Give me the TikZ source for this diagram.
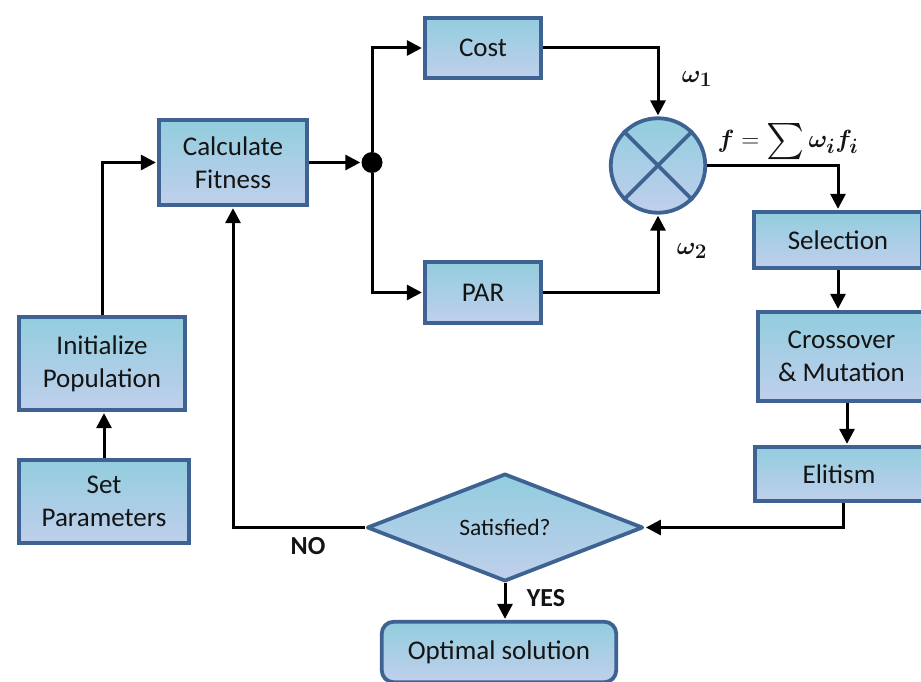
\documentclass[tikz,border=0pt]{standalone}
\usepackage{amsmath,bm,graphicx}
\usepackage{fontspec}
\setmainfont{Carlito}
\usetikzlibrary{arrows.meta,shapes.geometric}
\definecolor{bordc}{RGB}{62,99,146}
\definecolor{topc}{RGB}{146,205,222}
\definecolor{botc}{RGB}{192,207,236}
\definecolor{txtc}{RGB}{20,20,20}
\tikzset{
  box/.style={draw=bordc, line width=3.8pt, top color=topc, bottom color=botc,
    align=center, font=\fontsize{27}{33}\selectfont, text=txtc, inner sep=0pt},
  arr/.style={line width=3pt, -{Triangle[length=15pt,width=15pt]}, shorten >=1pt},
  lbl/.style={font=\bfseries\fontsize{26}{30}\selectfont, text=txtc},
  mlbl/.style={font=\fontsize{24.88}{30}\selectfont, text=txtc, inner sep=0pt},
}
\begin{document}
\begin{tikzpicture}[x=1pt,y=-1pt]
\useasboundingbox (0,0) rectangle (921,682);
\clip (0,0) rectangle (921,682);

% boxes
\node[box, minimum width=148.5pt, minimum height=85.5pt] (calc) at (233,162.5) {Calculate\\Fitness};
\node[box, minimum width=116.5pt, minimum height=60.5pt] (cost) at (483,48) {Cost};
\node[box, minimum width=116.5pt, minimum height=61.5pt] (par) at (483,292.5) {PAR};
\node[box, minimum width=166.5pt, minimum height=93.5pt] (init) at (102,363.5) {Initialize\\Population};
\node[box, minimum width=170.5pt, minimum height=83.5pt] (set) at (104,501.5) {Set\\Parameters};
\node[box, minimum width=168.5pt, minimum height=56.5pt] (sel) at (838,240) {Selection};
\node[box, minimum width=167.5pt, minimum height=89.5pt] (cross) at (841.5,356.5) {Crossover\\\&~Mutation};
\node[box, minimum width=168.5pt, minimum height=54.5pt] (eli) at (839,474) {Elitism};
\node[box, rounded corners=12pt, minimum width=234.5pt, minimum height=60.5pt] (opt) at (499,652) {Optimal solution};
\node[box, diamond, line join=round, font=\fontsize{23.5}{28}\selectfont,
      minimum width=276pt, minimum height=104pt] (dia) at (505,527.5) {Satisfied?};

% summing junction
\node[box, circle, minimum size=94.5pt] (circ) at (658,165.5) {};
\draw[bordc, line width=3.8pt] (circ.45) -- (circ.225);
\draw[bordc, line width=3.8pt] (circ.135) -- (circ.315);

% branch dot
\node[circle, fill=black, minimum size=21pt, inner sep=0pt] (dot) at (372,162.5) {};

% connectors
\draw[arr] (set.north) -- (set.north |- init.south);
\draw[arr] (init.north) |- (calc.west);
\draw[arr] (calc.east) -- (dot.west);
\draw[arr] (dot.north) |- (cost.west);
\draw[arr] (dot.south) |- (par.west);
\draw[arr] (cost.east) -| (circ.north);
\draw[arr] (par.east) -| (circ.south);
\draw[arr] (circ.east) -| (sel.north);
\draw[arr] (sel.south) -- (sel.south |- cross.north);
\draw[arr] ([xshift=5.5pt]cross.south) -- ([xshift=5.5pt]cross.south |- eli.north);
\draw[arr] ([xshift=4pt]eli.south) |- (dia.east);
\draw[arr] (dia.west) -| (calc.south);
\draw[arr] (dia.south) -- (dia.south |- opt.north);

% labels
\node[lbl] (no) at (308,546) {NO};
\node[lbl] (yes) at (546,598) {YES};
\node[mlbl] (w1) at (697,79) {$\bm{\omega_1}$};
\node[mlbl] (w2) at (692,251) {$\bm{\omega_2}$};
\node[mlbl, anchor=base] (feq) at (788,148) {$\bm{f} = \vcenter{\hbox{\scalebox{1.45}{$\sum$}}}\, \bm{\omega_i f_i}$};
\end{tikzpicture}
\end{document}
